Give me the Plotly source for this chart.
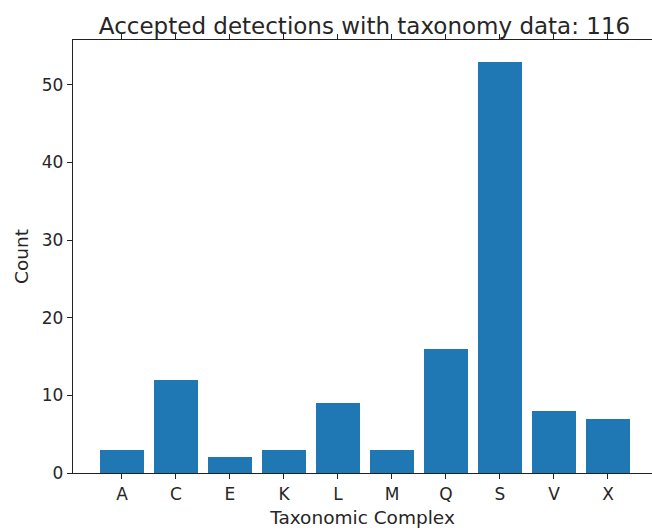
import plotly.graph_objects as go

# Taxonomic complexes and detection counts
complexes = ["A", "C", "E", "K", "L", "M", "Q", "S", "V", "X"]
counts = [3, 12, 2, 3, 9, 3, 16, 53, 8, 7]
y_ticks = [0, 10, 20, 30, 40, 50]

total = sum(counts)
font_family = "DejaVu Sans"
ink = "#262626"
spine = "#222222"
tick_size = 17
label_size = 18.5
title_size = 23

fig = go.Figure(
    go.Bar(
        x=complexes,
        y=counts,
        width=0.8,
        marker=dict(color="#1f77b4", line=dict(width=0)),
    )
)

fig.update_layout(
    width=652,
    height=531,
    margin=dict(l=73, r=0, t=40, b=58),
    paper_bgcolor="white",
    plot_bgcolor="white",
    showlegend=False,
    bargap=0,
    font=dict(family=font_family, color=ink, size=label_size),
    title=dict(
        text=f"Accepted detections with taxonomy data: {total}",
        x=(73 + 656) / 2 / 652,
        xanchor="center",
        y=1 - 34 / 531,
        yanchor="bottom",
        font=dict(size=title_size, family=font_family, color=ink),
    ),
)

fig.update_xaxes(
    type="category",
    range=[-0.907, 9.815],
    showgrid=False,
    zeroline=False,
    showline=True,
    linecolor=spine,
    linewidth=1.3,
    mirror="ticks",
    ticks="outside",
    ticklen=5,
    tickwidth=1.3,
    tickcolor=spine,
    tickfont=dict(size=tick_size),
    title=dict(text="Taxonomic Complex", font=dict(size=label_size), standoff=8),
)

fig.update_yaxes(
    range=[0, 55.77],
    tickvals=y_ticks,
    showgrid=False,
    zeroline=False,
    showline=True,
    linecolor=spine,
    linewidth=1.3,
    mirror=False,
    ticks="outside",
    ticklen=5,
    tickwidth=1.3,
    tickcolor=spine,
    tickfont=dict(size=tick_size),
    title=dict(text="Count", font=dict(size=label_size), standoff=8),
)

fig.write_html("out.html")
